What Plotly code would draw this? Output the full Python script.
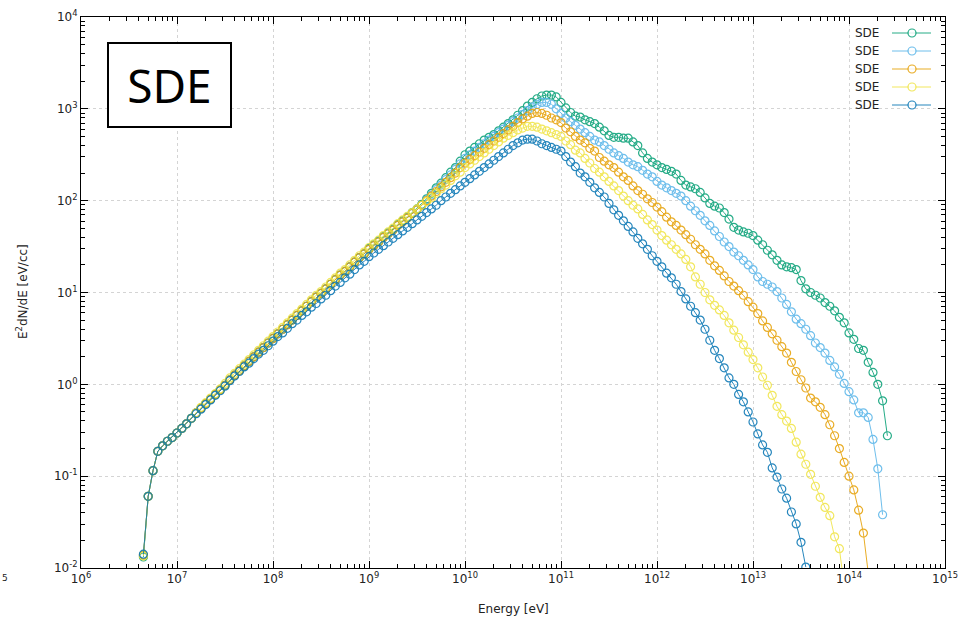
import plotly.graph_objects as go

# ---------------- data (log10 values) ----------------
log_energy = [
    6.65, 6.70, 6.75, 6.80, 6.85, 6.90, 6.95, 7.00, 7.05, 7.10,
    7.15, 7.20, 7.25, 7.30, 7.35, 7.40, 7.45, 7.50, 7.55, 7.60,
    7.65, 7.70, 7.75, 7.80, 7.85, 7.90, 7.95, 8.00, 8.05, 8.10,
    8.15, 8.20, 8.25, 8.30, 8.35, 8.40, 8.45, 8.50, 8.55, 8.60,
    8.65, 8.70, 8.75, 8.80, 8.85, 8.90, 8.95, 9.00, 9.05, 9.10,
    9.15, 9.20, 9.25, 9.30, 9.35, 9.40, 9.45, 9.50, 9.55, 9.60,
    9.65, 9.70, 9.75, 9.80, 9.85, 9.90, 9.95, 10.00, 10.05, 10.10,
    10.15, 10.20, 10.25, 10.30, 10.35, 10.40, 10.45, 10.50, 10.55, 10.60,
    10.65, 10.70, 10.75, 10.80, 10.85, 10.90, 10.95, 11.00, 11.05, 11.10,
    11.15, 11.20, 11.25, 11.30, 11.35, 11.40, 11.45, 11.50, 11.55, 11.60,
    11.65, 11.70, 11.75, 11.80, 11.85, 11.90, 11.95, 12.00, 12.05, 12.10,
    12.15, 12.20, 12.25, 12.30, 12.35, 12.40, 12.45, 12.50, 12.55, 12.60,
    12.65, 12.70, 12.75, 12.80, 12.85, 12.90, 12.95, 13.00, 13.05, 13.10,
    13.15, 13.20, 13.25, 13.30, 13.35, 13.40, 13.45, 13.50, 13.55, 13.60,
    13.65, 13.70, 13.75, 13.80, 13.85, 13.90, 13.95, 14.00, 14.05, 14.10,
    14.15, 14.20, 14.25, 14.30, 14.35, 14.40,
]

green_log = [
    -1.88, -1.22, -0.94, -0.73, -0.67, -0.62, -0.58, -0.53, -0.48, -0.43,
    -0.37, -0.31, -0.26, -0.21, -0.16, -0.11, -0.06, -0.01, 0.05, 0.10,
    0.15, 0.20, 0.25, 0.30, 0.35, 0.40, 0.45, 0.50, 0.55, 0.60,
    0.65, 0.70, 0.75, 0.80, 0.85, 0.90, 0.95, 0.99, 1.04, 1.09,
    1.14, 1.19, 1.23, 1.28, 1.33, 1.38, 1.42, 1.48, 1.52, 1.56,
    1.61, 1.65, 1.69, 1.74, 1.78, 1.82, 1.87, 1.91, 1.96, 2.02,
    2.08, 2.14, 2.19, 2.25, 2.31, 2.36, 2.43, 2.50, 2.54, 2.58,
    2.62, 2.66, 2.69, 2.72, 2.76, 2.80, 2.84, 2.88, 2.93, 2.98,
    3.03, 3.07, 3.11, 3.14, 3.15, 3.15, 3.13, 3.07, 3.01, 2.96,
    2.92, 2.91, 2.88, 2.86, 2.84, 2.80, 2.76, 2.71, 2.69, 2.69,
    2.68, 2.68, 2.64, 2.60, 2.52, 2.46, 2.42, 2.39, 2.36, 2.34,
    2.32, 2.29, 2.22, 2.17, 2.15, 2.13, 2.09, 2.03, 1.97, 1.94,
    1.92, 1.87, 1.80, 1.71, 1.68, 1.66, 1.645, 1.62, 1.57, 1.52,
    1.46, 1.41, 1.35, 1.30, 1.28, 1.27, 1.25, 1.13, 1.04, 1.00,
    0.97, 0.94, 0.89, 0.85, 0.80, 0.73, 0.67, 0.56, 0.49, 0.39,
    0.37, 0.24, 0.13, 0.00, -0.18, -0.56,
]

lightblue_log = [
    -1.86, -1.22, -0.94, -0.73, -0.67, -0.62, -0.58, -0.53, -0.48, -0.43,
    -0.37, -0.31, -0.26, -0.21, -0.16, -0.11, -0.06, -0.01, 0.05, 0.10,
    0.15, 0.20, 0.25, 0.30, 0.35, 0.40, 0.45, 0.50, 0.55, 0.60,
    0.65, 0.70, 0.75, 0.80, 0.85, 0.90, 0.95, 0.99, 1.04, 1.09,
    1.14, 1.19, 1.23, 1.28, 1.33, 1.38, 1.42, 1.47, 1.51, 1.55,
    1.60, 1.64, 1.68, 1.73, 1.77, 1.81, 1.86, 1.90, 1.95, 2.01,
    2.06, 2.12, 2.17, 2.23, 2.28, 2.34, 2.40, 2.46, 2.50, 2.54,
    2.58, 2.62, 2.66, 2.70, 2.74, 2.78, 2.82, 2.86, 2.90, 2.94,
    2.98, 3.02, 3.05, 3.07, 3.07, 3.05, 3.00, 2.95, 2.90, 2.86,
    2.82, 2.78, 2.74, 2.70, 2.66, 2.64, 2.60, 2.56, 2.52, 2.49,
    2.46, 2.42, 2.39, 2.37, 2.33, 2.29, 2.26, 2.21, 2.17, 2.14,
    2.11, 2.08, 2.05, 2.00, 1.94, 1.89, 1.84, 1.78, 1.73, 1.67,
    1.61, 1.55, 1.50, 1.44, 1.40, 1.35, 1.30, 1.25, 1.17, 1.12,
    1.09, 1.06, 1.01, 0.94, 0.87, 0.79, 0.71, 0.66, 0.60, 0.53,
    0.45, 0.40, 0.34, 0.26, 0.19, 0.11, 0.01, -0.08, -0.17, -0.31,
    -0.31, -0.36, -0.60, -0.92, -1.42,
]

orange_log = [
    -1.86, -1.22, -0.94, -0.73, -0.67, -0.62, -0.58, -0.53, -0.48, -0.43,
    -0.37, -0.31, -0.26, -0.21, -0.16, -0.11, -0.06, -0.01, 0.05, 0.10,
    0.15, 0.20, 0.25, 0.30, 0.35, 0.40, 0.45, 0.50, 0.55, 0.60,
    0.65, 0.70, 0.75, 0.80, 0.85, 0.90, 0.95, 0.99, 1.04, 1.09,
    1.14, 1.19, 1.23, 1.28, 1.33, 1.38, 1.42, 1.47, 1.51, 1.55,
    1.60, 1.64, 1.68, 1.73, 1.77, 1.81, 1.86, 1.90, 1.95, 2.00,
    2.05, 2.10, 2.15, 2.20, 2.25, 2.30, 2.36, 2.41, 2.45, 2.49,
    2.53, 2.57, 2.61, 2.65, 2.69, 2.73, 2.77, 2.81, 2.85, 2.89,
    2.92, 2.95, 2.96, 2.95, 2.93, 2.90, 2.88, 2.85, 2.79, 2.75,
    2.70, 2.66, 2.63, 2.57, 2.54, 2.47, 2.43, 2.39, 2.36, 2.31,
    2.26, 2.22, 2.16, 2.11, 2.07, 2.02, 1.98, 1.93, 1.88, 1.82,
    1.77, 1.73, 1.68, 1.63, 1.58, 1.52, 1.47, 1.42, 1.35, 1.29,
    1.24, 1.18, 1.12, 1.07, 1.02, 0.97, 0.90, 0.84, 0.77, 0.69,
    0.62, 0.55, 0.48, 0.41, 0.34, 0.24, 0.14, 0.05, -0.04, -0.15,
    -0.19, -0.25, -0.33, -0.44, -0.56, -0.70, -0.85, -1.00, -1.15, -1.37,
    -1.62, -2.05,
]

yellow_log = [
    -1.87, -1.22, -0.94, -0.73, -0.67, -0.62, -0.58, -0.53, -0.48, -0.43,
    -0.37, -0.31, -0.25, -0.20, -0.15, -0.10, -0.05, 0.01, 0.07, 0.12,
    0.17, 0.22, 0.27, 0.32, 0.37, 0.42, 0.47, 0.52, 0.57, 0.62,
    0.67, 0.72, 0.77, 0.82, 0.87, 0.92, 0.97, 1.01, 1.06, 1.11,
    1.16, 1.21, 1.25, 1.30, 1.35, 1.40, 1.44, 1.49, 1.53, 1.57,
    1.62, 1.66, 1.70, 1.75, 1.79, 1.83, 1.87, 1.91, 1.95, 1.99,
    2.03, 2.08, 2.13, 2.17, 2.22, 2.27, 2.31, 2.36, 2.40, 2.44,
    2.48, 2.52, 2.56, 2.60, 2.64, 2.68, 2.71, 2.74, 2.77, 2.79,
    2.81, 2.81, 2.80, 2.78, 2.76, 2.74, 2.72, 2.70, 2.65, 2.61,
    2.55, 2.52, 2.46, 2.41, 2.35, 2.31, 2.26, 2.21, 2.16, 2.11,
    2.05, 2.00, 1.95, 1.91, 1.85, 1.79, 1.74, 1.68, 1.62, 1.57,
    1.52, 1.47, 1.42, 1.36, 1.28, 1.17, 1.09, 1.00, 0.92, 0.86,
    0.81, 0.75, 0.67, 0.59, 0.51, 0.43, 0.35, 0.27, 0.18, 0.08,
    -0.01, -0.12, -0.24, -0.33, -0.40, -0.48, -0.63, -0.76, -0.87, -0.98,
    -1.11, -1.23, -1.34, -1.43, -1.66, -1.79, -2.20,
]

blue_log = [
    -1.85, -1.22, -0.94, -0.73, -0.67, -0.62, -0.58, -0.53, -0.48, -0.43,
    -0.37, -0.32, -0.27, -0.22, -0.17, -0.12, -0.07, -0.02, 0.04, 0.09,
    0.14, 0.19, 0.23, 0.28, 0.33, 0.37, 0.42, 0.47, 0.52, 0.56,
    0.61, 0.66, 0.70, 0.75, 0.79, 0.84, 0.88, 0.93, 0.97, 1.02,
    1.07, 1.11, 1.16, 1.20, 1.25, 1.30, 1.34, 1.39, 1.43, 1.47,
    1.51, 1.55, 1.59, 1.63, 1.67, 1.71, 1.75, 1.79, 1.83, 1.87,
    1.91, 1.95, 2.00, 2.04, 2.08, 2.12, 2.16, 2.20, 2.24, 2.28,
    2.32, 2.36, 2.40, 2.44, 2.48, 2.52, 2.56, 2.60, 2.63, 2.66,
    2.67, 2.67, 2.65, 2.62, 2.60, 2.58, 2.56, 2.54, 2.48, 2.42,
    2.37, 2.30, 2.26, 2.20, 2.14, 2.09, 2.04, 1.97, 1.90, 1.84,
    1.78, 1.72, 1.66, 1.59, 1.53, 1.47, 1.40, 1.34, 1.28, 1.21,
    1.16, 1.09, 1.01, 0.93, 0.85, 0.78, 0.70, 0.60, 0.48, 0.37,
    0.28, 0.18, 0.07, 0.00, -0.11, -0.19, -0.30, -0.41, -0.54, -0.66,
    -0.74, -0.91, -1.01, -1.14, -1.24, -1.39, -1.52, -1.72, -1.99,
]

series_names = ["SDE", "SDE", "SDE", "SDE", "SDE"]
series_logs = [green_log, lightblue_log, orange_log, yellow_log, blue_log]
series_colors = ["#009e73", "#56b4e9", "#e69f00", "#f0e442", "#0072b2"]

x_tick_exp = [6, 7, 8, 9, 10, 11, 12, 13, 14, 15]
y_tick_exp = [-2, -1, 0, 1, 2, 3, 4]

# ---------------- figure ----------------
fig = go.Figure()
for name, ylog, col in zip(series_names, series_logs, series_colors):
    n = len(ylog)
    fig.add_trace(go.Scatter(
        x=[10 ** e for e in log_energy[:n]],
        y=[10 ** v for v in ylog],
        mode="lines+markers",
        name=name,
        showlegend=False,
        line=dict(color=col, width=1),
        marker=dict(symbol="circle-open", size=8, color=col, line=dict(width=1.2, color=col)),
        opacity=0.85,
    ))

FONT = "DejaVu Sans"
axis_common = dict(
    automargin=False,
    showline=True, linecolor="black", linewidth=1, mirror="allticks",
    ticks="inside", ticklen=7, tickcolor="black", tickwidth=1,
    showgrid=True, gridcolor="#d4d4d4", griddash="dot", gridwidth=1,
    zeroline=False,
    tickfont=dict(family=FONT, size=12, color="#222"),
    minor=dict(ticks="inside", ticklen=4, tickcolor="black", dtick="D1", showgrid=False),
)

fig.update_xaxes(
    type="log", range=[6, 15],
    tickmode="array",
    tickvals=[10 ** e for e in x_tick_exp],
    ticktext=[f"10<sup>{e}</sup>" for e in x_tick_exp],
    **axis_common,
)
fig.update_yaxes(
    type="log", range=[-2, 4],
    tickmode="array",
    tickvals=[10 ** e for e in y_tick_exp],
    ticktext=[f"10<sup>{e}</sup>" for e in y_tick_exp],
    **axis_common,
)

L, R, T, B = 81, 16, 17, 54
PW, PH = 961 - L - R, 622 - T - B


def px(xp):
    return (xp - L) / PW


def py(yp):
    return (622 - B - yp) / PH


annotations = [
    dict(text="Energy [eV]", x=px(513), y=py(609), xref="paper", yref="paper",
         showarrow=False, font=dict(family=FONT, size=12, color="#222"),
         xanchor="center", yanchor="middle"),
    dict(text="E<sup>2</sup>dN/dE [eV/cc]", x=px(22), y=py(292), xref="paper", yref="paper",
         showarrow=False, textangle=-90, font=dict(family=FONT, size=12, color="#222"),
         xanchor="center", yanchor="middle"),
    dict(text="SDE", x=px(169.5), y=py(85), xref="paper", yref="paper",
         showarrow=False, font=dict(family="Noto Sans", size=46, color="black"),
         xanchor="center", yanchor="middle",
         bordercolor="black", borderwidth=2, borderpad=0, width=121, height=82,
         bgcolor="white"),
    dict(text="5", x=px(0), y=py(578), xref="paper", yref="paper",
         showarrow=False, font=dict(family=FONT, size=9, color="#222"),
         xanchor="left", yanchor="middle"),
]

shapes = []
legend_rows = [33, 51, 69, 87, 105]
for name, col, row in zip(series_names, series_colors, legend_rows):
    annotations.append(dict(
        text=name, x=px(881), y=py(row), xref="paper", yref="paper",
        showarrow=False, font=dict(family=FONT, size=12, color="#222"),
        xanchor="right", yanchor="middle"))
    shapes.append(dict(type="line", xref="paper", yref="paper",
                       x0=px(892), x1=px(931), y0=py(row), y1=py(row),
                       line=dict(color=col, width=1), opacity=0.85))
    shapes.append(dict(type="circle", xref="paper", yref="paper",
                       xsizemode="pixel", ysizemode="pixel",
                       xanchor=px(912), yanchor=py(row),
                       x0=-4, x1=4, y0=-4, y1=4,
                       line=dict(color=col, width=1.2), fillcolor="white", opacity=0.85))

fig.update_layout(
    width=961, height=622,
    margin=dict(l=L, r=R, t=T, b=B),
    paper_bgcolor="white", plot_bgcolor="white",
    showlegend=False,
    annotations=annotations,
    shapes=shapes,
)

fig.write_html("out.html")
